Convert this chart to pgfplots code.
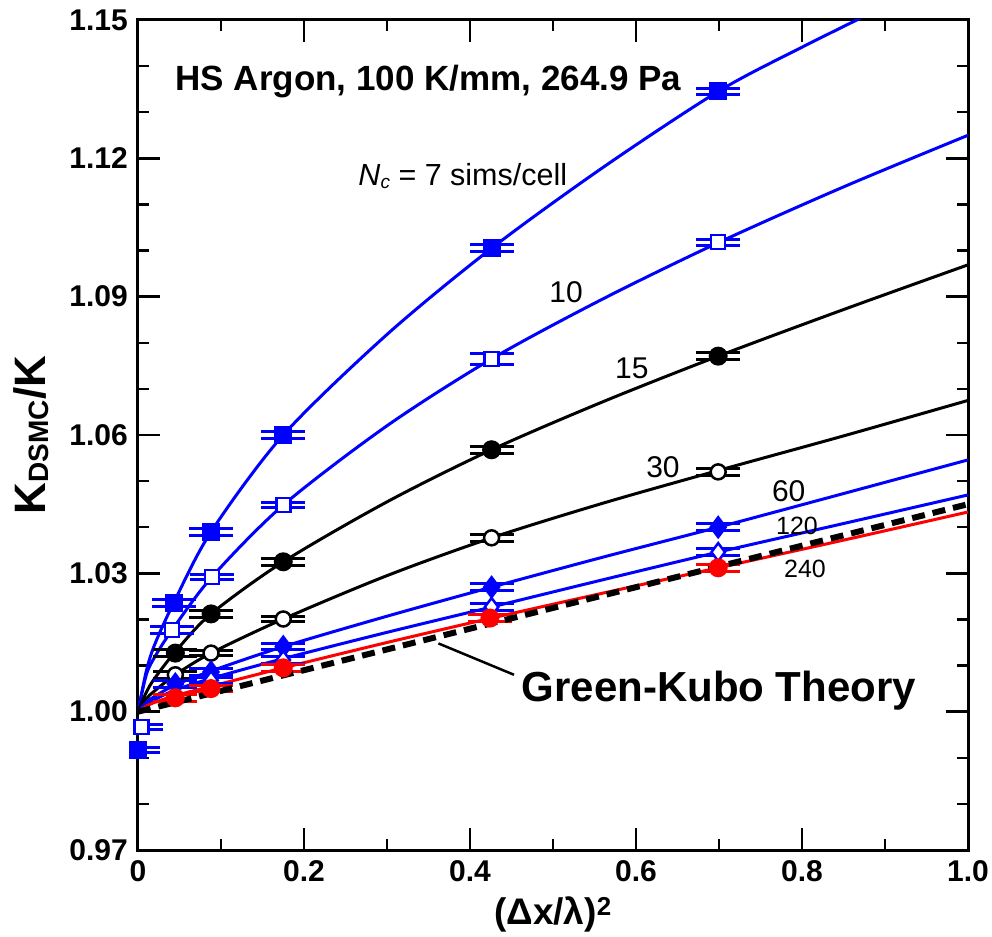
\documentclass[border=0pt]{standalone}
\usepackage{pgfplots}
\pgfplotsset{compat=1.18}
\usepackage{pgfplotstable}
\usepackage{fontspec}
\setmainfont{Liberation Sans}
\newcommand{\fs}[1]{\fontsize{#1}{#1}\selectfont}

% measured points: x, y, y error
\pgfplotstableread{
x y e
0.000 0.9917 0.0006
0.043 1.0236 0.0007
0.088 1.0390 0.0007
0.175 1.0600 0.0007
0.426 1.1005 0.0008
0.699 1.1345 0.0006
}\ptA
\pgfplotstableread{
x y e
0.004 0.9967 0.0006
0.041 1.0177 0.0007
0.089 1.0292 0.0006
0.175 1.0448 0.0006
0.426 1.0765 0.0012
0.699 1.1018 0.0006
}\ptB
\pgfplotstableread{
x y e
0.045 1.0127 0.0007
0.088 1.0212 0.0007
0.175 1.0325 0.0007
0.426 1.0568 0.0008
0.699 1.0771 0.0007
}\ptC
\pgfplotstableread{
x y e
0.045 1.0080 0.0007
0.088 1.0127 0.0006
0.175 1.0201 0.0006
0.426 1.0377 0.0007
0.699 1.0520 0.0007
}\ptD
\pgfplotstableread{
x y e
0.045 1.0060 0.0007
0.088 1.0086 0.0007
0.175 1.0141 0.0007
0.426 1.0270 0.0008
0.699 1.0400 0.0007
}\ptE
\pgfplotstableread{
x y e
0.088 1.0068 0.0007
0.175 1.0112 0.0007
0.426 1.0227 0.0008
0.699 1.0346 0.0007
}\ptF
\pgfplotstableread{
x y e
0.045 1.0030 0.0007
0.088 1.0050 0.0007
0.175 1.0095 0.0007
0.424 1.0203 0.0008
0.699 1.0312 0.0007
}\ptG

% fitted curves
\pgfplotstableread{
x y
0 1.0000
0.01 1.0088
0.02 1.0145
0.043 1.0236
0.088 1.0390
0.175 1.0600
0.30 1.0818
0.426 1.1005
0.56 1.1180
0.699 1.1345
0.80 1.1441
0.90 1.1530
}\cvA
\pgfplotstableread{
x y
0 1.0000
0.01 1.0080
0.02 1.0118
0.041 1.0177
0.089 1.0292
0.175 1.0448
0.30 1.0620
0.426 1.0765
0.56 1.0895
0.699 1.1017
0.85 1.1138
1.0 1.1250
}\cvB
\pgfplotstableread{
x y
0 1.0000
0.01 1.0042
0.02 1.0072
0.045 1.0130
0.088 1.0212
0.175 1.0325
0.30 1.0455
0.426 1.0568
0.56 1.0672
0.699 1.0771
0.85 1.0872
1.0 1.0969
}\cvC
\pgfplotstableread{
x y
0 1.0000
0.01 1.0028
0.02 1.0045
0.045 1.0080
0.088 1.0127
0.175 1.0201
0.30 1.0295
0.426 1.0377
0.56 1.0452
0.699 1.0523
0.85 1.0598
1.0 1.0675
}\cvD
\pgfplotstableread{
x y
0 1.0000
0.01 1.0020
0.02 1.0033
0.045 1.0058
0.088 1.0088
0.175 1.0141
0.30 1.0207
0.426 1.0270
0.56 1.0335
0.699 1.0400
0.85 1.0473
1.0 1.0546
}\cvE
\pgfplotstableread{
x y
0 1.0000
0.01 1.0015
0.02 1.0026
0.045 1.0047
0.088 1.0072
0.175 1.0115
0.30 1.0172
0.426 1.0227
0.56 1.0286
0.699 1.0346
0.85 1.0408
1.0 1.0470
}\cvF
\pgfplotstableread{
x y
0 1.0000
0.01 1.0012
0.02 1.0020
0.045 1.0035
0.088 1.0055
0.175 1.0095
0.30 1.0150
0.426 1.0203
0.56 1.0257
0.699 1.0312
0.85 1.0372
1.0 1.0433
}\cvG

\begin{document}
\begin{tikzpicture}
\begin{axis}[
  width=830pt, height=830pt, scale only axis,
  xmin=0, xmax=1, ymin=0.97, ymax=1.15,
  xtick={0,0.2,0.4,0.6,0.8,1.0},
  xticklabels={0,0.2,0.4,0.6,0.8,1.0},
  minor x tick num=1,
  ytick={0.97,1.00,1.03,1.06,1.09,1.12,1.15},
  yticklabels={0.97,1.00,1.03,1.06,1.09,1.12,1.15},
  minor y tick num=2,
  tick label style={font=\bfseries\fs{30}},
  xticklabel style={inner sep=0pt, yshift=-10pt},
  yticklabel style={inner sep=0pt, xshift=-10pt},
  axis line style={line width=3pt},
  every tick/.style={black, line width=2.5pt},
  major tick length=22pt, minor tick length=11pt,
  xlabel={(Δx/λ)\textsuperscript{2}},
  xlabel style={font=\bfseries\fs{37}, at={(axis description cs:0.5,-0.090)}, anchor=base},
  ylabel={K\raisebox{-3pt}{\fs{28}DSMC}/K},
  ylabel style={font=\bfseries\fs{44}, at={(axis description cs:-0.111,0.5)}, anchor=base, rotate=0},
  every axis plot/.append style={line width=3pt},
  error bars/error mark=|,
  error bars/error mark options={line width=3pt, mark size=22pt},
]
% curves
\addplot[blue, smooth, no marks] table {\cvA};
\addplot[blue, smooth, no marks] table {\cvB};
\addplot[black, smooth, no marks] table {\cvC};
\addplot[black, smooth, no marks] table {\cvD};
\addplot[blue, smooth, no marks] table {\cvE};
\addplot[blue, smooth, no marks] table {\cvF};
\addplot[red, smooth, no marks] table {\cvG};
% points
\addplot[blue, only marks, mark=square*, mark size=7.5pt,
  error bars/.cd, y dir=both, y explicit] table[y error=e] {\ptA};
\addplot[blue, only marks, mark=square*, mark size=7pt, mark options={fill=white, line width=2.5pt},
  error bars/.cd, y dir=both, y explicit] table[y error=e] {\ptB};
\addplot[black, only marks, mark=*, mark size=8pt,
  error bars/.cd, y dir=both, y explicit] table[y error=e] {\ptC};
\addplot[black, only marks, mark=*, mark size=7.5pt, mark options={fill=white, line width=2.5pt},
  error bars/.cd, y dir=both, y explicit] table[y error=e] {\ptD};
\addplot[blue, only marks, mark=diamond*, mark size=9.5pt,
  error bars/.cd, y dir=both, y explicit] table[y error=e] {\ptE};
\addplot[blue, only marks, mark=diamond*, mark size=9pt, mark options={fill=white, line width=2.5pt},
  error bars/.cd, y dir=both, y explicit] table[y error=e] {\ptF};
\addplot[red, only marks, mark=*, mark size=8pt,
  error bars/.cd, y dir=both, y explicit] table[y error=e] {\ptG};
% Green-Kubo theory
\addplot[black, line width=6pt, dash pattern=on 13pt off 8pt, no marks] coordinates {(0,1.0) (1.0,1.045)};

\node[anchor=base west, font=\bfseries\fs{35}] at (axis cs:0.041,1.1348) {HS Argon, 100 K/mm, 264.9 Pa};
\node[anchor=base west, font=\fs{30.5}] at (axis cs:0.2614,1.1142) {\textit{N}\raisebox{-3pt}{\fs{19}\textit{c}} = 7 sims/cell};
\node[font=\fs{30}] at (axis cs:0.5157,1.0910) {10};
\node[font=\fs{30}] at (axis cs:0.595,1.0745) {15};
\node[font=\fs{30}] at (axis cs:0.6325,1.0531) {30};
\node[font=\fs{30}] at (axis cs:0.784,1.0479) {60};
\node[font=\fs{25}] at (axis cs:0.794,1.0403) {120};
\node[font=\fs{25}] at (axis cs:0.8036,1.0309) {240};
\draw[black, line width=2.5pt] (axis cs:0.362,1.0148) -- (axis cs:0.453,1.0080);
\node[anchor=base west, font=\bfseries\fs{42}] at (axis cs:0.458,1.0023) {Green-Kubo Theory};
\end{axis}
\path (current axis.south west) ++(-138pt,-86pt) rectangle ++(992pt,936pt);
\end{tikzpicture}
\end{document}
